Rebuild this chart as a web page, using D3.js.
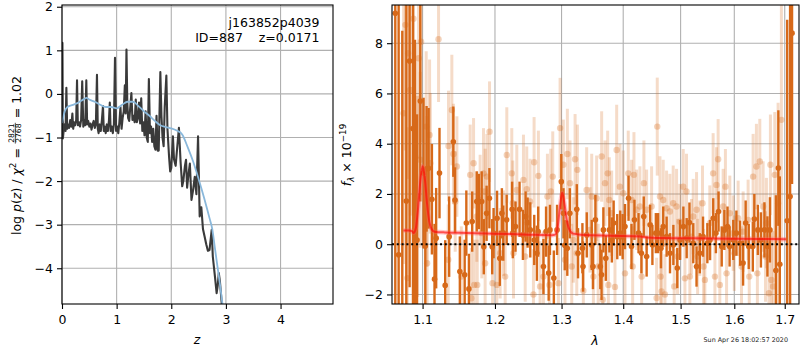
<!DOCTYPE html>
<html><head><meta charset="utf-8">
<script src="https://cdn.jsdelivr.net/npm/d3@7"></script>
<style>
body{margin:0;background:#fff}
text{font-family:"DejaVu Sans",sans-serif}
</style>
</head><body>
<svg id="c" width="800" height="350"></svg>
<script>
// ---------------- DATA ----------------
// Left panel: redshift grid and log p(z)
const pzZ = [0.000,0.008,0.016,0.03,0.05,0.065,0.08,0.095,0.11,0.13,
  0.15,0.17,0.19,0.205,0.22,0.24,0.26,0.275,0.29,0.31,
  0.33,0.35,0.37,0.39,0.41,0.425,0.445,0.46,0.48,0.50,
  0.52,0.54,0.56,0.58,0.60,0.62,0.64,0.655,0.67,0.69,
  0.71,0.73,0.75,0.765,0.78,0.80,0.82,0.84,0.86,0.875,
  0.89,0.91,0.93,0.95,0.97,0.99,1.01,1.03,1.05,1.07,
  1.09,1.11,1.13,1.15,1.165,1.18,1.195,1.21,1.23,1.25,
  1.27,1.29,1.31,1.33,1.35,1.37,1.39,1.41,1.43,1.45,
  1.47,1.49,1.51,1.53,1.55,1.57,1.59,1.61,1.63,1.65,
  1.67,1.69,1.71,1.73,1.75,1.77,1.80,1.82,1.84,1.86,
  1.88,1.91,1.93,1.96,1.98,2.00,2.03,2.05,2.08,2.10,
  2.14,2.17,2.20,2.22,2.25,2.27,2.29,2.31,2.34,2.37,
  2.40,2.43,2.46,2.49,2.52,2.55,2.58,2.61,2.64,2.67,
  2.70,2.74,2.76,2.80,2.83,2.85,2.87,2.89,2.91,2.95];
const pzLogp = [-0.95,1.17,-1.02,-0.85,-0.70,-0.85,0.14,-0.80,-0.70,-0.78,
  -0.60,-0.75,-0.45,-0.80,-0.65,-0.72,-0.60,0.31,-0.72,-0.65,
  -0.75,-0.60,0.29,-0.75,-0.60,-0.72,0.31,-0.70,-0.62,-0.75,
  -0.68,-0.82,-0.70,-0.62,-0.78,-0.70,0.44,-0.80,-0.90,-0.70,
  -0.85,-0.60,-0.28,-0.85,-0.75,-0.90,-0.70,-0.85,-0.60,-0.20,
  -0.85,-0.75,-0.90,-0.70,0.83,-0.85,-0.75,-0.90,-0.65,-0.30,
  -0.80,-0.55,-0.40,0.20,-0.45,1.02,-0.20,-0.55,-0.62,-0.30,
  0.02,-0.60,-0.50,-0.65,-0.13,-0.65,-0.55,-0.20,-0.68,-0.10,
  -0.85,-0.65,-0.95,-0.40,-1.00,-1.10,0.34,-0.90,-0.75,-1.10,
  -0.80,-1.20,-1.28,-0.50,-1.30,-1.30,0.50,-0.50,-1.00,-1.20,
  -0.30,0.42,-0.80,-1.45,-1.78,-1.70,-0.97,-1.50,-1.65,-1.35,
  -0.78,-1.55,-2.12,-2.00,-1.65,-1.51,-2.15,-1.90,-1.60,-2.43,
  -2.20,-1.90,-2.30,-0.97,-2.81,-2.60,-3.10,-3.27,-3.45,-3.60,
  -3.58,-3.12,-3.73,-4.20,-4.57,-4.40,-4.11,-4.30,-4.60,-5.20];
// Left panel: smooth prior/model curve
const priorZ = [0.00,0.05,0.10,0.20,0.30,0.40,0.45,0.50,0.60,0.70,0.80,0.90,1.00,1.10,1.20,1.30,1.40,1.50,1.60,1.70,
  1.80,1.90,2.00,2.10,2.20,2.30,2.40,2.50,2.60,2.70,2.75,2.80,2.85,2.90,2.95];
const priorLogp = [-0.67,-0.40,-0.30,-0.25,-0.20,-0.12,-0.09,-0.13,-0.18,-0.25,-0.30,-0.30,-0.33,-0.25,-0.18,-0.18,-0.28,-0.40,-0.50,-0.62,
  -0.72,-0.76,-0.79,-0.84,-0.93,-1.22,-1.55,-1.95,-2.38,-2.85,-3.10,-3.55,-4.00,-4.45,-4.95];

// Right panel: spectrum (dark = primary, light = secondary)
const darkWave = [1.0645,1.0688,1.0735,1.0787,1.0830,1.0874,1.0900,1.0927,1.0970,1.1013,
  1.1036,1.1053,1.1080,1.1124,1.1159,1.1181,1.1226,1.1303,1.1357,1.1414,
  1.1437,1.1504,1.1571,1.1594,1.1630,1.1676,1.174,1.177,1.181,1.184,
  1.188,1.192,1.196,1.198,1.203,1.207,1.210,1.212,1.217,1.225,
  1.226,1.230,1.236,1.241,1.245,1.248,1.252,1.258,1.262,1.264,
  1.272,1.276,1.280,1.282,1.288,1.293,1.2996,1.303,1.305,1.309,
  1.313,1.324,1.326,1.333,1.334,1.340,1.348,1.350,1.354,1.362,
  1.364,1.367,1.371,1.377,1.381,1.384,1.390,1.395,1.399,1.403,
  1.409,1.414,1.419,1.426,1.431,1.435,1.440,1.446,1.450,1.456,
  1.460,1.465,1.469,1.475,1.481,1.487,1.494,1.499,1.505,1.511,
  1.516,1.523,1.529,1.535,1.541,1.549,1.554,1.560,1.565,1.570,
  1.576,1.581,1.587,1.591,1.598,1.604,1.611,1.617,1.622,1.628,
  1.636,1.639,1.646,1.652,1.659,1.665,1.670,1.682,1.687,1.690,
  1.705,1.711,1.715];
const darkFlux = [9.19,-0.42,-3.5,1.72,7.29,4.60,2.14,0.17,5.70,2.83,
  -0.07,3.00,3.02,1.79,-1.39,0.24,2.83,-1.64,0.30,4.08,
  1.76,-1.09,-1.22,0.84,-1.78,0.90,1.70,1.70,1.70,-0.10,
  1.23,1.83,-0.10,0.44,1.03,-0.56,1.23,0.44,0.97,1.39,
  0.44,0.70,1.39,0.37,1.10,0.86,0.57,0.17,-0.36,0.50,
  -0.89,0.50,-1.15,0.57,-1.35,0.57,2.49,1.23,-0.04,-0.16,
  1.23,1.39,-0.36,-0.16,-0.89,0.37,-0.03,-0.89,0.97,-0.89,
  -1.22,0.57,-0.56,0.57,0.17,0.84,0.30,0.44,0.30,0.70,
  1.83,-0.09,0.97,0.44,-0.36,1.10,-0.49,0.77,-0.03,0.44,
  0.44,-0.16,0.70,0.30,-0.36,-0.03,-0.95,0.17,0.70,0.24,
  0.86,0.04,-0.89,-0.36,0.30,0.04,0.17,1.03,0.44,1.30,
  -0.09,0.57,0.70,-0.09,0.17,0.44,0.04,-0.75,0.84,-0.09,
  -0.09,1.00,0.57,0.17,0.57,-0.09,0.57,-1.05,3.03,-0.80,
  0.93,1.90,8.40];
const darkErr = [12,12,12,10,9,8,6,5,4,3,
  2.8,2.5,2.4,2.2,2.2,2.0,1.8,1.8,1.6,1.4,
  1.3,1.4,1.4,1.3,1.4,1.2,1.2,1.1,1.2,1.1,
  1.1,1.2,1.1,1.0,1.1,1.1,1.0,1.1,1.0,1.1,
  1.0,1.0,1.1,1.0,1.0,1.0,1.1,1.0,1.1,1.0,
  1.1,1.0,1.1,1.0,1.1,1.0,1.1,1.0,1.0,1.1,
  1.0,1.0,1.0,1.0,1.0,0.9,1.0,0.9,1.0,0.9,
  1.0,0.9,0.9,0.9,0.9,0.9,0.9,0.9,0.9,0.9,
  0.9,0.9,0.8,0.8,0.8,0.8,0.8,0.8,0.8,0.8,
  0.8,0.8,0.8,0.8,0.8,0.8,0.8,0.8,0.8,0.8,
  0.8,0.8,0.8,0.8,0.8,0.8,0.8,0.8,0.8,0.8,
  0.8,0.8,0.8,0.8,0.8,0.9,0.9,0.9,0.9,0.9,
  1.0,1.0,1.0,1.1,1.1,1.2,1.3,3.0,2.3,3.5,
  8,10,6];

const lightWave = [1.0752,1.0775,1.0800,1.0810,1.0838,1.0880,1.0903,1.0934,1.0947,1.0969,
  1.0980,1.1048,1.1057,1.1060,1.1093,1.1102,1.1213,1.1344,1.1348,1.1394,
  1.1416,1.1440,1.1463,1.1524,1.1648,1.1664,1.1695,1.1704,1.1741,1.1747,
  1.1788,1.1812,1.1836,1.1859,1.1860,1.1884,1.1922,1.1965,1.2027,1.2075,
  1.2123,1.2148,1.2172,1.2245,1.2260,1.2270,1.2319,1.2418,1.2444,1.2467,
  1.2517,1.2568,1.2578,1.2643,1.2669,1.2720,1.2781,1.2812,1.2833,1.2863,
  1.2951,1.2977,1.3028,1.3054,1.3091,1.3133,1.3160,1.3186,1.3213,1.3240,
  1.3250,1.3345,1.3398,1.3452,1.3480,1.3507,1.3560,1.3585,1.3642,1.3660,
  1.3697,1.3741,1.3752,1.3768,1.3807,1.3862,1.3890,1.3945,1.4001,1.4030,
  1.4085,1.4142,1.4160,1.4182,1.4227,1.4284,1.4314,1.4353,1.4399,1.4486,
  1.4574,1.4585,1.4632,1.4645,1.4661,1.4690,1.4720,1.4749,1.4808,1.4867,
  1.4885,1.4927,1.4945,1.4987,1.5047,1.5078,1.5107,1.5168,1.5198,1.5229,
  1.5290,1.5310,1.5351,1.5400,1.5420,1.5444,1.5536,1.5598,1.5632,1.5661,
  1.5692,1.5724,1.5787,1.5830,1.5852,1.5914,1.5978,1.6000,1.6074,1.6139,
  1.6171,1.6268,1.6290,1.6366,1.6431,1.6450,1.6498,1.6564,1.6612,1.6630,
  1.6680,1.6710,1.6730,1.6764,1.6798,1.6865,1.6932];
const lightFlux = [5.21,8.73,-1.35,7.60,6.14,8.97,3.49,1.90,7.40,3.36,
  8.06,4.68,2.10,-0.76,4.35,3.22,8.16,-0.62,3.91,5.34,
  3.59,1.70,3.09,-1.29,2.76,-2.15,3.22,-1.62,1.10,-1.62,
  1.76,0.44,2.82,-0.76,2.10,2.69,4.48,-1.55,-1.62,-0.36,
  0.44,-1.29,3.55,2.82,1.63,-0.36,2.16,2.56,-0.49,2.19,
  1.70,-2.00,3.26,2.72,-1.68,-1.29,1.90,-1.62,2.10,2.69,
  -1.55,4.62,3.16,-0.62,3.59,2.43,-0.89,0.17,3.38,-0.36,
  2.96,-1.85,2.16,0.57,1.90,-1.29,1.83,-0.89,3.49,-2.21,
  2.43,2.82,-1.62,1.76,1.23,-1.70,3.75,2.29,2.03,-1.16,
  2.82,1.76,-0.89,2.76,1.37,1.50,-1.29,2.43,1.37,1.50,
  -2.14,4.68,1.90,-1.29,-1.88,1.76,-2.00,1.43,1.30,1.63,
  -1.68,1.50,-0.49,0.90,2.29,-1.36,2.10,-1.29,0.30,1.10,
  1.37,-0.49,0.24,1.63,-0.89,-1.42,0.84,2.82,-1.29,2.36,
  3.38,-1.62,1.50,2.29,-1.16,1.23,0.44,-0.36,1.03,-0.89,
  0.50,0.97,-1.29,2.69,3.09,-1.16,3.29,1.50,-0.49,0.84,
  -1.95,3.16,-1.42,-1.68,2.76,1.63,4.95];
const lightErr = [6,5,6,5,5,5,4.5,4,4,3.5,
  4,3,3,3,3,2.8,2.5,2.2,2.2,2.2,
  2.0,2.0,2.0,2.0,2.0,2.0,1.8,1.8,1.8,1.8,
  1.8,1.8,1.8,1.8,1.7,1.7,2.0,1.8,1.8,1.8,
  1.7,1.8,1.9,1.8,1.7,1.8,1.8,1.8,1.8,1.7,
  1.7,1.8,1.8,1.8,1.8,1.8,1.7,1.8,1.7,1.8,
  1.8,2.0,1.8,1.8,1.8,1.7,1.7,1.7,1.8,1.7,
  1.8,1.8,1.7,1.7,1.7,1.7,1.7,1.7,1.8,1.7,
  1.7,1.7,1.7,1.7,1.7,1.7,1.8,1.7,1.7,1.7,
  1.7,1.6,1.6,1.7,1.6,1.6,1.6,1.7,1.6,1.6,
  1.6,1.95,1.6,1.6,1.6,1.6,1.6,1.5,1.5,1.5,
  1.5,1.5,1.5,1.5,1.5,1.5,1.5,1.5,1.5,1.5,
  1.5,1.5,1.5,1.5,1.5,1.5,1.5,1.6,1.5,1.5,
  1.6,1.5,1.5,1.5,1.5,1.5,1.5,1.5,1.5,1.6,
  1.6,1.6,1.6,1.7,1.7,1.7,1.7,1.8,1.8,1.8,
  2.0,2.0,2.0,2.2,2.5,4,5];

// Right panel: best-fit model
const modelWave = [1.075,1.082,1.086,1.088,1.091,1.094,1.097,1.100,1.103,1.106,
  1.109,1.112,1.116,1.130,1.160,1.200,1.250,1.285,1.290,1.294,
  1.298,1.301,1.304,1.308,1.312,1.318,1.330,1.380,1.430,1.440,
  1.460,1.550,1.650,1.703];
const modelFlux = [0.55,0.55,0.52,0.45,0.62,1.40,2.50,3.10,2.60,1.60,
  0.90,0.60,0.50,0.47,0.45,0.42,0.38,0.36,0.38,0.70,
  1.60,2.05,1.70,1.00,0.60,0.42,0.38,0.34,0.31,0.27,
  0.25,0.23,0.21,0.20];

const leftXTicks = [0,1,2,3,4];
const leftYTicks = [-4,-3,-2,-1,0,1,2];
const rightXTicks = [1.1,1.2,1.3,1.4,1.5,1.6,1.7];
const rightYTicks = [-2,0,2,4,6,8];

// ---------------- DRAW ----------------
const svg = d3.select("#c");
const FS = 12.5;
const gridCol = "#b0b0b0";
const orange = "rgb(215,105,25)";

// ===== Left panel =====
const L = {x0:62, x1:333, y0:5, y1:304};
const xz = d3.scaleLinear().domain([0,4.96]).range([L.x0,L.x1]);
const yp = d3.scaleLinear().domain([-4.82,2.04]).range([L.y1,L.y0]);

svg.append("defs").html(
  `<clipPath id="clipL"><rect x="${L.x0}" y="${L.y0}" width="${L.x1-L.x0}" height="${L.y1-L.y0}"/></clipPath>`+
  `<clipPath id="clipR"><rect x="392" y="5" width="407" height="299"/></clipPath>`);

const gL = svg.append("g");
gL.selectAll(".vg").data(leftXTicks).join("line")
  .attr("x1",d=>xz(d)).attr("x2",d=>xz(d)).attr("y1",L.y0).attr("y2",L.y1)
  .attr("stroke",gridCol).attr("stroke-width",1.1);
gL.selectAll(".hg").data(leftYTicks).join("line")
  .attr("x1",L.x0).attr("x2",L.x1).attr("y1",d=>yp(d)).attr("y2",d=>yp(d))
  .attr("stroke",gridCol).attr("stroke-width",1.1);

const gLc = gL.append("g").attr("clip-path","url(#clipL)");
const pzData = pzZ.map((z,i)=>[z,pzLogp[i]]);
const priorData = priorZ.map((z,i)=>[z,priorLogp[i]]);
gLc.append("path").datum(pzData)
  .attr("d",d3.line().x(d=>xz(d[0])).y(d=>yp(d[1])))
  .attr("fill","none").attr("stroke","#3a3a3a").attr("stroke-width",2.1)
  .attr("stroke-linejoin","round");
gLc.append("path").datum(priorData)
  .attr("d",d3.line().curve(d3.curveMonotoneX).x(d=>xz(d[0])).y(d=>yp(d[1])))
  .attr("fill","none").attr("stroke","rgb(138,184,219)").attr("stroke-width",1.8);

const axLx = svg.append("g").attr("transform",`translate(0,${L.y1})`)
  .call(d3.axisBottom(xz).tickValues(leftXTicks).tickSize(5).tickPadding(6).tickFormat(d3.format("d")));
const axLy = svg.append("g").attr("transform",`translate(${L.x0},0)`)
  .call(d3.axisLeft(yp).tickValues(leftYTicks).tickSize(5).tickPadding(4).tickFormat(d3.format("d")));
svg.append("rect").attr("x",L.x0).attr("y",L.y0).attr("width",L.x1-L.x0).attr("height",L.y1-L.y0)
  .attr("fill","none").attr("stroke","#000").attr("stroke-width",1.1);

svg.append("text").attr("x",319.5).attr("y",27).attr("text-anchor","end").attr("font-size",FS)
  .text("j163852p4039");
svg.append("text").attr("x",319.5).attr("y",41.7).attr("text-anchor","end").attr("font-size",FS)
  .style("white-space","pre").text("ID=887    z=0.0171");

svg.append("text").attr("x",197).attr("y",344).attr("text-anchor","middle")
  .attr("font-size",FS).attr("font-style","italic").text("z");

// left y label with fraction
const gyl = svg.append("g");
const t1 = gyl.append("text").attr("font-size",FS);
t1.append("tspan").text("log ");
t1.append("tspan").attr("font-style","italic").text("p");
t1.append("tspan").text("(");
t1.append("tspan").attr("font-style","italic").text("z");
t1.append("tspan").style("white-space","pre").text(") / ");
t1.append("tspan").attr("font-style","italic").text("χ");
t1.append("tspan").attr("font-size",8.8).attr("dy",-5).text("2");
t1.style("white-space","pre");
const w1 = t1.node().getComputedTextLength();
const t2 = gyl.append("text").attr("font-size",FS).attr("x",w1).style("white-space","pre").text(" = ");
const w2 = t2.node().getComputedTextLength();
const fx = w1 + w2 + 0.5;
const num = gyl.append("text").attr("font-size",7.6).attr("y",-6.6).text("2821");
const den = gyl.append("text").attr("font-size",7.6).attr("y",0.6).text("2768");
const fw = Math.max(num.node().getComputedTextLength(), den.node().getComputedTextLength()) + 1.5;
num.attr("x",fx+fw/2).attr("text-anchor","middle");
den.attr("x",fx+fw/2).attr("text-anchor","middle");
gyl.append("line").attr("x1",fx).attr("x2",fx+fw).attr("y1",-5.2).attr("y2",-5.2)
  .attr("stroke","#000").attr("stroke-width",0.7);
const t3 = gyl.append("text").attr("font-size",FS).attr("x",fx+fw+0.5).style("white-space","pre").text(" = 1.02");
const wTot = fx + fw + 0.5 + t3.node().getComputedTextLength();
gyl.attr("transform",`translate(20.5,${155.5 + wTot/2}) rotate(-90)`);

// ===== Right panel =====
const R = {x0:392, x1:799, y0:5, y1:304};
const xl = d3.scaleLog().domain([1.0603,1.7294]).range([R.x0,R.x1]);
const yf = d3.scaleLinear().domain([-2.38,9.52]).range([R.y1,R.y0]);

const gR = svg.append("g");
gR.selectAll(".vg").data(rightXTicks).join("line")
  .attr("x1",d=>xl(d)).attr("x2",d=>xl(d)).attr("y1",R.y0).attr("y2",R.y1)
  .attr("stroke",gridCol).attr("stroke-width",1.1);
gR.selectAll(".hg").data(rightYTicks).join("line")
  .attr("x1",R.x0).attr("x2",R.x1).attr("y1",d=>yf(d)).attr("y2",d=>yf(d))
  .attr("stroke",gridCol).attr("stroke-width",1.1);

const gRc = gR.append("g").attr("clip-path","url(#clipR)");
const light = lightWave.map((w,i)=>({w, f:lightFlux[i], e:lightErr[i]}));
const dark = darkWave.map((w,i)=>({w, f:darkFlux[i], e:darkErr[i]}));

gRc.append("g").selectAll("line").data(light).join("line")
  .attr("x1",d=>xl(d.w)).attr("x2",d=>xl(d.w))
  .attr("y1",d=>yf(d.f-d.e)).attr("y2",d=>yf(d.f+d.e))
  .attr("stroke",orange).attr("stroke-opacity",0.24).attr("stroke-width",3);
gRc.append("g").selectAll("circle").data(light).join("circle")
  .attr("cx",d=>xl(d.w)).attr("cy",d=>yf(d.f)).attr("r",3.2)
  .attr("fill",orange).attr("fill-opacity",0.3);
gRc.append("g").selectAll("line").data(dark).join("line")
  .attr("x1",d=>xl(d.w)).attr("x2",d=>xl(d.w))
  .attr("y1",d=>yf(d.f-d.e)).attr("y2",d=>yf(d.f+d.e))
  .attr("stroke",orange).attr("stroke-width",2.4);
gRc.append("g").selectAll("circle").data(dark).join("circle")
  .attr("cx",d=>xl(d.w)).attr("cy",d=>yf(d.f)).attr("r",2.8)
  .attr("fill",orange);

const model = modelWave.map((w,i)=>[w,modelFlux[i]]);
const mline = d3.line().curve(d3.curveMonotoneX).x(d=>xl(d[0])).y(d=>yf(d[1]));
gRc.append("path").datum(model).attr("d",mline).attr("fill","none")
  .attr("stroke","rgb(255,90,90)").attr("stroke-opacity",0.35).attr("stroke-width",4.5);
gRc.append("path").datum(model).attr("d",mline).attr("fill","none")
  .attr("stroke","rgb(255,0,0)").attr("stroke-opacity",0.6).attr("stroke-width",2);
gRc.append("line").attr("x1",R.x0).attr("x2",R.x1).attr("y1",yf(0)).attr("y2",yf(0))
  .attr("stroke","#000").attr("stroke-width",2).attr("stroke-dasharray","2,2.8");

svg.append("g").attr("transform",`translate(0,${R.y1})`)
  .call(d3.axisBottom(xl).tickValues(rightXTicks).tickSize(5).tickPadding(6).tickFormat(d3.format(".1f")));
svg.append("g").attr("transform",`translate(${R.x0},0)`)
  .call(d3.axisLeft(yf).tickValues(rightYTicks).tickSize(5).tickPadding(4).tickFormat(d3.format("d")));
svg.append("rect").attr("x",R.x0).attr("y",R.y0).attr("width",R.x1-R.x0).attr("height",R.y1-R.y0)
  .attr("fill","none").attr("stroke","#000").attr("stroke-width",1.1);

svg.append("text").attr("x",595).attr("y",345).attr("text-anchor","middle")
  .attr("font-size",FS).attr("font-style","italic").text("λ");

const ryl = svg.append("text").attr("font-size",FS).attr("text-anchor","middle")
  .attr("transform","translate(351,155) rotate(-90)");
ryl.append("tspan").attr("font-style","italic").text("f");
ryl.append("tspan").attr("font-size",8.8).attr("font-style","italic").attr("dy",3).text("λ");
ryl.append("tspan").attr("dy",-3).style("white-space","pre").text(" × 10");
ryl.append("tspan").attr("font-size",8.8).attr("dy",-5).text("−19");

svg.append("text").attr("x",788).attr("y",341.5).attr("text-anchor","end")
  .attr("font-size",6.4).attr("fill","#222").text("Sun Apr 26 18:02:57 2020");

// style axes
svg.selectAll(".domain").remove();
svg.selectAll(".tick line").attr("stroke","#000").attr("stroke-width",1.1);
svg.selectAll(".tick text").attr("font-size",FS).attr("fill","#000")
  .attr("font-family","DejaVu Sans, sans-serif");
</script>
</body></html>
